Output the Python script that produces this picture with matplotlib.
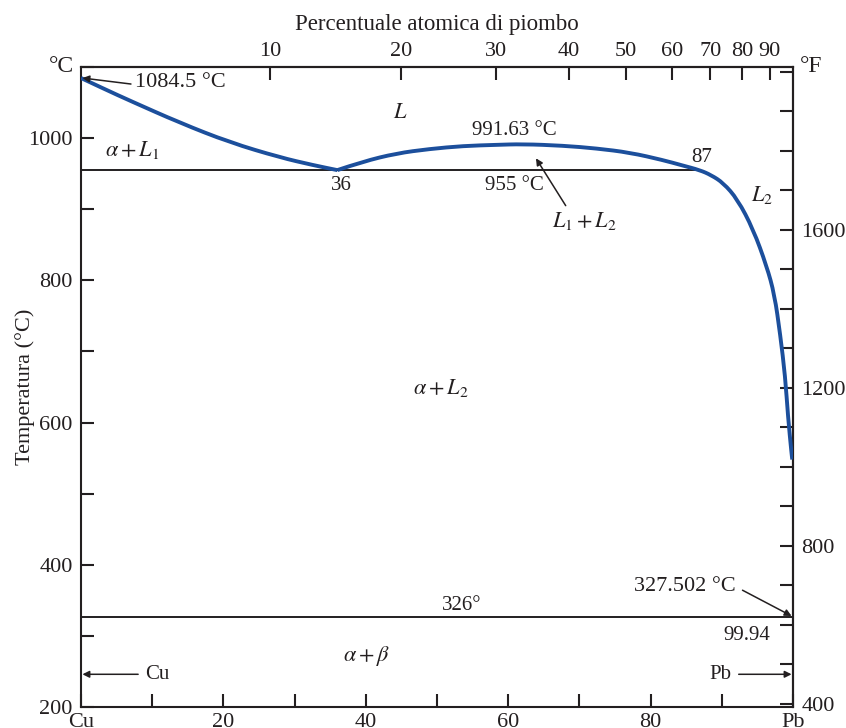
import numpy as np
import matplotlib
matplotlib.use('Agg')
import matplotlib.pyplot as plt
from matplotlib.path import Path
from matplotlib.patches import PathPatch

plt.rcParams['font.family'] = ['Liberation Serif', 'DejaVu Serif']
plt.rcParams['mathtext.fontset'] = 'stix'
plt.rcParams['font.size'] = 15

# liquidus lato rame (wt% Pb, °C)
liq1_x = [0, 3.4, 6.9, 13.9, 20.9, 27.9, 32.6, 36]
liq1_T = [1084.5, 1068.5, 1052.5, 1021.5, 994, 973, 962, 955]

# lacuna di miscibilità + liquidus lato piombo
liq2_x = [36, 39.6, 44.3, 48.9, 53.7, 58.3, 62, 67.7, 72.4, 77.1, 81.7, 84.5, 86.9,
          88.5, 90.2, 92.2, 94.4, 96.3, 97.4, 98.2, 98.9, 99.3, 99.8, 99.9]
liq2_T = [955, 967, 978.5, 984.7, 989, 990.5, 991.6, 989.4, 985.5, 979.6, 969.2, 961.5, 955,
          948, 937, 914, 872, 820, 780, 724, 665, 608, 556, 548]

monotettico_T = 955
monotettico_x = [0, 87]
eutettico_T = 326
eutettico_x = [0, 100]

x_ticks = [0, 10, 20, 30, 40, 50, 60, 70, 80, 90, 100]
x_labels = ['Cu', '', '20', '', '40', '', '60', '', '80', '', 'Pb']
c_ticks = list(range(200, 1101, 100))
c_labels = ['200', '', '400', '', '600', '', '800', '', '1000', '']
f_ticks = list(range(400, 2001, 100))
f_labels = [str(t) if t % 400 == 0 and t < 2000 else '' for t in f_ticks]
at_ticks = [10, 20, 30, 40, 50, 60, 70, 80, 90]

M_PB = 207.2
M_CU = 63.546


def wt_to_at(w):
    w = np.clip(np.asarray(w, dtype=float), 0, 100)
    return (w / M_PB) / (w / M_PB + (100 - w) / M_CU) * 100


def at_to_wt(a):
    a = np.clip(np.asarray(a, dtype=float), 0, 100)
    return a * M_PB / (a * M_PB + (100 - a) * M_CU) * 100


def c_to_f(c):
    return np.asarray(c) * 1.8 + 32


def f_to_c(f):
    return (np.asarray(f) - 32) / 1.8


def curva(x, y):
    # tracciato morbido: archi quadratici con i punti letti come controllo
    p = np.column_stack([x, y])
    verts = [p[0]]
    codes = [Path.MOVETO]
    for i in range(1, len(p) - 1):
        verts += [p[i], (p[i] + p[i + 1]) / 2]
        codes += [Path.CURVE3, Path.CURVE3]
    verts.append(p[-1])
    codes.append(Path.LINETO)
    return Path(verts, codes)


ink = '#231f20'
blu = '#1c4f9c'

fig = plt.figure(figsize=(8.46, 7.28), dpi=100)
ax = fig.add_axes([81 / 846, 21 / 728, 712 / 846, 640 / 728])

for xs, ys in [(liq1_x, liq1_T), (liq2_x, liq2_T)]:
    ax.add_patch(PathPatch(curva(xs, ys), facecolor='none', edgecolor=blu,
                           lw=2.8, capstyle='butt', zorder=3))
ax.hlines(monotettico_T, monotettico_x[0], monotettico_x[1], color=ink, lw=1.4)
ax.hlines(eutettico_T, eutettico_x[0], eutettico_x[1], color=ink, lw=1.4)

ax.set_xlim(0, 100)
ax.set_ylim(200, 1100)
for s in ax.spines.values():
    s.set_linewidth(1.5)
    s.set_color(ink)

ax.set_xticks(x_ticks)
ax.set_xticklabels(x_labels)
ax.set_yticks(c_ticks)
ax.set_yticklabels(c_labels)
ax.tick_params(direction='in', length=9.5, width=1.5, color=ink, labelcolor=ink, labelsize=16)
ax.tick_params(axis='y', pad=6)
ax.tick_params(axis='x', pad=4)
ax.set_ylabel('Temperatura (°C)', color=ink, fontsize=16)
ax.yaxis.set_label_coords(-0.064, 0.5)

# asse superiore: percentuale atomica
top = ax.secondary_xaxis('top', functions=(wt_to_at, at_to_wt))
top.set_xticks(at_ticks)
top.tick_params(direction='in', length=9.5, width=1.5, color=ink, labelcolor=ink,
                labelsize=16, pad=4)
top.set_xlabel('Percentuale atomica di piombo', color=ink, fontsize=16.5, labelpad=9)
top.spines['top'].set_linewidth(1.5)

# asse destro: Fahrenheit
right = ax.secondary_yaxis('right', functions=(c_to_f, f_to_c))
right.set_yticks(f_ticks)
right.set_yticklabels(f_labels)
right.tick_params(direction='in', length=9.5, width=1.5, color=ink, labelcolor=ink,
                  labelsize=16, pad=6)
right.spines['right'].set_linewidth(1.5)

ax.text(-0.027, 1.0, '°C', transform=ax.transAxes, ha='center', va='center', color=ink, fontsize=17)
ax.text(1.026, 1.0, '°F', transform=ax.transAxes, ha='center', va='center', color=ink, fontsize=17)

# etichette delle regioni
ax.text(3.4, 983, r'$\alpha + L_1$', ha='left', va='center', color=ink, fontsize=16)
ax.text(44.9, 1035, r'$L$', ha='center', va='center', color=ink, fontsize=16)
ax.text(60.9, 1011, '991.63 °C', ha='center', va='center', color=ink)
ax.text(36.5, 934, '36', ha='center', va='center', color=ink)
ax.text(60.9, 933, '955 °C', ha='center', va='center', color=ink)
ax.text(87.2, 973, '87', ha='center', va='center', color=ink)
ax.text(95.7, 920, r'$L_2$', ha='center', va='center', color=ink, fontsize=16)
ax.text(50.5, 649, r'$\alpha + L_2$', ha='center', va='center', color=ink, fontsize=16)
ax.text(53.4, 343, '326°', ha='center', va='center', color=ink)
ax.text(93.5, 300, '99.94', ha='center', va='center', color=ink)
ax.text(40.1, 272, r'$\alpha + \beta$', ha='center', va='center', color=ink, fontsize=16)

freccia = dict(arrowstyle='-|>', color=ink, lw=1.1, mutation_scale=10, shrinkA=1, shrinkB=0)
ax.annotate('1084.5 °C', xy=(0.2, 1084.5), xytext=(7.6, 1078), ha='left', va='center',
            color=ink, fontsize=16, arrowprops=dict(freccia, relpos=(0, 0.4)))
ax.annotate(r'$L_1 + L_2$', xy=(63.9, 971.6), xytext=(70.7, 884), ha='center', va='center',
            color=ink, fontsize=16, arrowprops=dict(freccia, relpos=(0.25, 1.0)))
ax.annotate('327.502 °C', xy=(99.8, 328), xytext=(92.0, 369), ha='right', va='center',
            color=ink, fontsize=16, arrowprops=dict(freccia, relpos=(1.0, 0.5), shrinkA=3))
ax.annotate('Cu', xy=(0.2, 246), xytext=(9.0, 246), ha='left', va='center',
            color=ink, arrowprops=dict(freccia, relpos=(0, 0.5), shrinkA=3))
ax.annotate('Pb', xy=(99.8, 246), xytext=(91.4, 246), ha='right', va='center',
            color=ink, arrowprops=dict(freccia, relpos=(1, 0.5), shrinkA=3))

fig.savefig('out.png', dpi=100)
